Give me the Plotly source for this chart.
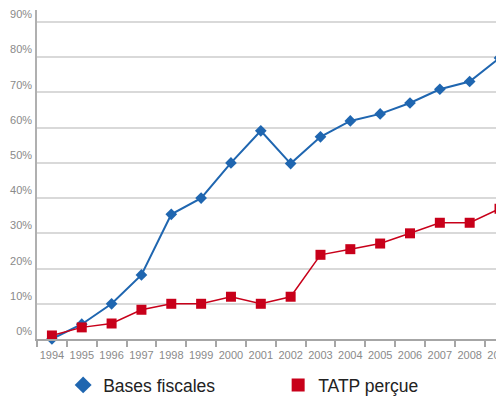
import plotly.graph_objects as go

years = ["1994", "1995", "1996", "1997", "1998", "1999", "2000", "2001",
         "2002", "2003", "2004", "2005", "2006", "2007", "2008", "2009"]
bases_fiscales = [0, 4.2, 10, 18.2, 35.4, 40, 50, 59.1, 49.8, 57.4, 61.9, 63.9, 67, 70.9, 73.1, 79.8]
tatp_percue = [1, 3.3, 4.4, 8.3, 10, 10, 12, 10, 12, 23.9, 25.5, 27.1, 30, 33, 33, 37]
y_ticks = [0, 10, 20, 30, 40, 50, 60, 70, 80, 90]
y_tick_labels = [f"{v}%" for v in y_ticks]

BLUE = "#1f66b0"
RED = "#c8001a"
FONT = "Liberation Sans, Arial, sans-serif"

fig = go.Figure()
fig.add_trace(go.Scatter(
    x=years, y=bases_fiscales, mode="lines+markers",
    line=dict(color=BLUE, width=2),
    marker=dict(symbol="diamond", size=9, color=BLUE),
    showlegend=False, cliponaxis=False))
fig.add_trace(go.Scatter(
    x=years, y=tatp_percue, mode="lines+markers",
    line=dict(color=RED, width=1.5),
    marker=dict(symbol="square", size=10, color=RED),
    showlegend=False, cliponaxis=False))
# legend entries (markers only)
fig.add_trace(go.Scatter(x=[None], y=[None], mode="markers", name="Bases fiscales",
                         marker=dict(symbol="diamond", size=13, color=BLUE)))
fig.add_trace(go.Scatter(x=[None], y=[None], mode="markers", name="TATP perçue",
                         marker=dict(symbol="square", size=13, color=RED)))

# page body has an 8px default margin, so the figure is sized to fit the window
fig.update_layout(
    width=496, height=395,
    margin=dict(l=29, r=0, t=2, b=57),
    plot_bgcolor="white", paper_bgcolor="white",
    font=dict(family=FONT, color="#808080"),
    legend=dict(orientation="h", x=0.056, xanchor="left", y=-0.086, yanchor="top",
                font=dict(size=17.5, color="#222222", family=FONT),
                entrywidth=170, entrywidthmode="pixels", itemsizing="trace",
                bgcolor="rgba(0,0,0,0)"),
)
fig.update_xaxes(
    type="category", range=[-0.5, 15.15], automargin=False,
    showgrid=False, showline=True, linecolor="#a6a6a6", linewidth=1.5,
    ticks="outside", tickson="boundaries", ticklen=6, tickcolor="#a6a6a6", tickwidth=1.5,
    tickangle=0, tickfont=dict(size=11, color="#8a8a8a"), ticklabelstandoff=5,
    ticklabeloverflow="allow", zeroline=False,
)
fig.update_yaxes(
    range=[0, 93.4], tickvals=y_ticks, ticktext=y_tick_labels, automargin=False,
    showgrid=True, gridcolor="#d9d9d9", gridwidth=1.5,
    showline=True, linecolor="#b0b0b0", linewidth=1.5,
    ticks="", ticklabelposition="outside top", ticklabelstandoff=1,
    ticklabeloverflow="allow",
    tickfont=dict(size=11, color="#8a8a8a"), zeroline=False,
)
fig.write_html("out.html")
